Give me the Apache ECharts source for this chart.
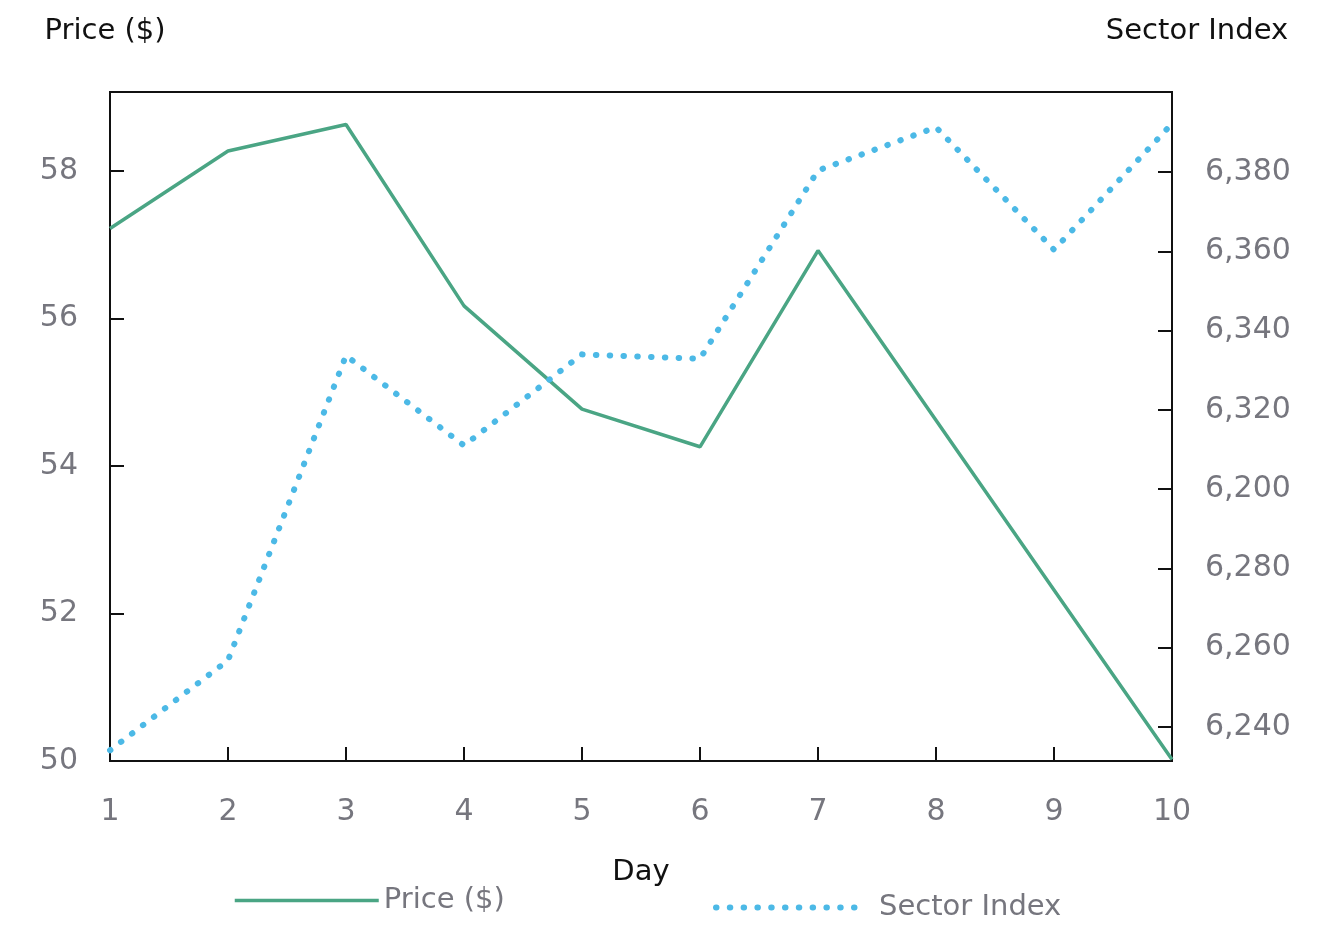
<!DOCTYPE html>
<html>
<head>
<meta charset="utf-8">
<script src="https://cdn.jsdelivr.net/npm/echarts@6/dist/echarts.min.js"></script>
<style>html,body{margin:0;padding:0;background:#fff}#c{width:1330px;height:942px}</style>
</head>
<body>
<div id="c"></div>
<script>
const days = ['1','2','3','4','5','6','7','8','9','10'];
const price = [57.22, 58.27, 58.63, 56.17, 54.77, 54.26, 56.92, 54.62, 52.32, 50.02];
const sectorIndex = [6234.1, 6256.8, 6333.7, 6311.0, 6334.0, 6332.9, 6380.4, 6391.3, 6360.4, 6392.2];
const priceTicks = [50, 52, 54, 56, 58];
const sectorTicks = [6240, 6260, 6280, 6300, 6320, 6340, 6360, 6380];
const sectorTickLabels = ['6,240', '6,260', '6,280', '6,200', '6,320', '6,340', '6,360', '6,380'];

const FONT = '"DejaVu Sans"';
const GRAY = '#76767e';
const GREEN = '#4aa584';
const BLUE = '#4cb9e6';

const chart = echarts.init(document.getElementById('c'), null, {renderer: 'canvas'});
chart.setOption({
  animation: false,
  textStyle: {fontFamily: FONT},
  grid: {left: 110, right: 158, top: 92, bottom: 181, show: true, borderColor: '#111', borderWidth: 2},
  xAxis: {
    type: 'category', data: days, boundaryGap: false,
    name: 'Day', nameLocation: 'middle', nameGap: 97,
    nameTextStyle: {color: '#111', fontSize: 29, fontFamily: FONT},
    axisLine: {lineStyle: {color: '#111', width: 2}},
    axisTick: {inside: true, length: 14, lineStyle: {color: '#111', width: 2}},
    axisLabel: {color: GRAY, fontSize: 30, margin: 36, fontFamily: FONT},
    splitLine: {show: false}
  },
  yAxis: [{
    type: 'value', min: 50, max: 59.07, position: 'left',
    name: 'Price ($)', nameLocation: 'end', nameGap: 46,
    nameTextStyle: {color: '#111', fontSize: 29, fontFamily: FONT, align: 'center', padding: [0, 10, 0, 0]},
    axisLine: {show: true, lineStyle: {color: '#111', width: 2}},
    axisTick: {show: true, inside: true, length: 14, lineStyle: {color: '#111', width: 2}, customValues: priceTicks},
    axisLabel: {color: GRAY, fontSize: 30, margin: 32, fontFamily: FONT, customValues: priceTicks},
    splitLine: {show: false}
  }, {
    type: 'value', min: 6231.4, max: 6400.2, position: 'right',
    name: 'Sector Index', nameLocation: 'end', nameGap: 46,
    nameTextStyle: {color: '#111', fontSize: 29, fontFamily: FONT, align: 'center', padding: [0, 0, 0, 50]},
    axisLine: {show: true, lineStyle: {color: '#111', width: 2}},
    axisTick: {show: true, inside: true, length: 14, lineStyle: {color: '#111', width: 2}, customValues: sectorTicks},
    axisLabel: {color: GRAY, fontSize: 30, margin: 33, fontFamily: FONT, customValues: sectorTicks,
      formatter: function (v) { const i = sectorTicks.indexOf(v); return i >= 0 ? sectorTickLabels[i] : ''; }},
    splitLine: {show: false}
  }],
  legend: [{
    data: ['Price ($)'], left: 228, top: 881, itemWidth: 144, itemHeight: 14, itemGap: 12,
    itemStyle: {color: 'rgba(0,0,0,0)', borderWidth: 0},
    lineStyle: {color: GREEN, width: 3.5, type: 'solid'},
    textStyle: {color: GRAY, fontSize: 29, fontFamily: FONT}
  }, {
    data: ['Sector Index'], left: 708, top: 888, itemWidth: 150, itemHeight: 14, itemGap: 38,
    itemStyle: {color: 'rgba(0,0,0,0)', borderWidth: 0},
    lineStyle: {color: BLUE, width: 6, type: [0.5, 13.3], cap: 'round'},
    textStyle: {color: GRAY, fontSize: 29, fontFamily: FONT, padding: [0, 0, 0, 8]}
  }],
  series: [{
    name: 'Price ($)', type: 'line', yAxisIndex: 0, data: price,
    symbol: 'none', lineStyle: {color: GREEN, width: 3.5}, itemStyle: {color: GREEN}
  }, {
    name: 'Sector Index', type: 'line', yAxisIndex: 1, data: sectorIndex,
    symbol: 'none', lineStyle: {color: BLUE, width: 6, type: [0.5, 13.3], cap: 'round'}, itemStyle: {color: BLUE}
  }]
});
</script>
</body>
</html>
